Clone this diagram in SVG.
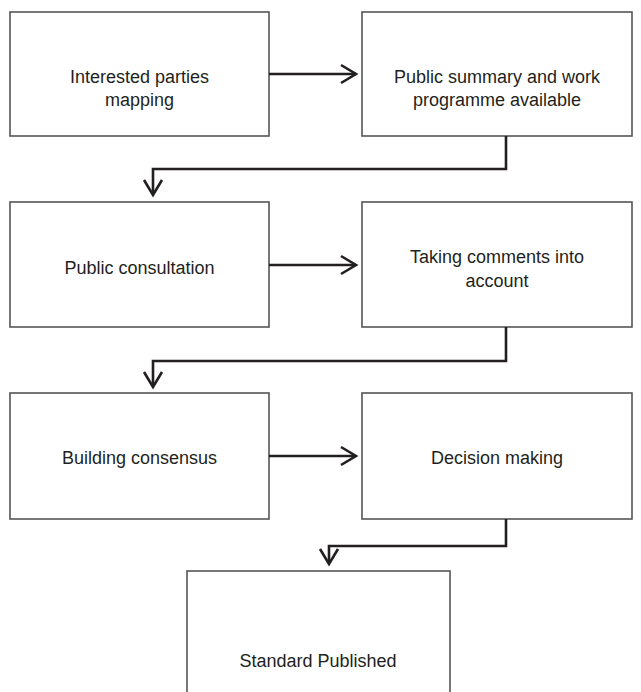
<svg xmlns="http://www.w3.org/2000/svg" width="641" height="692" viewBox="0 0 641 692">
<style>
.box{fill:#fff;stroke:#555;stroke-width:1.6}
.t{font-family:"Liberation Sans",Arial,sans-serif;font-size:18px;fill:#231f20;text-anchor:middle}
.c{fill:none;stroke:#231f20;stroke-width:2.6}
</style>
<defs>
<marker id="ah" markerWidth="20" markerHeight="24" viewBox="-17 -12 19 24" refX="0" refY="0" orient="auto" markerUnits="userSpaceOnUse">
<polyline points="-15,-9 0,0 -15,9" fill="none" stroke="#231f20" stroke-width="2.6"/>
</marker>
</defs>
<rect width="641" height="692" fill="#fff"/>
<g id="n1"><rect class="box" x="10" y="12" width="259" height="124"/><text class="t" x="139.5" y="83">Interested parties</text><text class="t" x="139.5" y="106">mapping</text></g>
<g id="n2"><rect class="box" x="362" y="12" width="270" height="124"/><text class="t" x="497" y="83">Public summary and work</text><text class="t" x="497" y="106">programme available</text></g>
<g id="n3"><rect class="box" x="10" y="202" width="259" height="125"/><text class="t" x="139.5" y="274">Public consultation</text></g>
<g id="n4"><rect class="box" x="362" y="202" width="270" height="125"/><text class="t" x="497" y="263">Taking comments into</text><text class="t" x="497" y="287">account</text></g>
<g id="n5"><rect class="box" x="10" y="393" width="259" height="126"/><text class="t" x="139.5" y="464">Building consensus</text></g>
<g id="n6"><rect class="box" x="362" y="393" width="270" height="126"/><text class="t" x="497" y="464">Decision making</text></g>
<g id="n7"><rect class="box" x="187" y="571" width="263" height="150"/><text class="t" x="318" y="667">Standard Published</text></g>
<g id="connectors">
<path class="c" d="M269,74 H356" marker-end="url(#ah)"/>
<path class="c" d="M506,136 V169 H153 V195" marker-end="url(#ah)"/>
<path class="c" d="M269,265 H356" marker-end="url(#ah)"/>
<path class="c" d="M506,327 V361 H153 V387" marker-end="url(#ah)"/>
<path class="c" d="M269,456 H356" marker-end="url(#ah)"/>
<path class="c" d="M506,519 V546 H329 V564" marker-end="url(#ah)"/>
</g>
</svg>
